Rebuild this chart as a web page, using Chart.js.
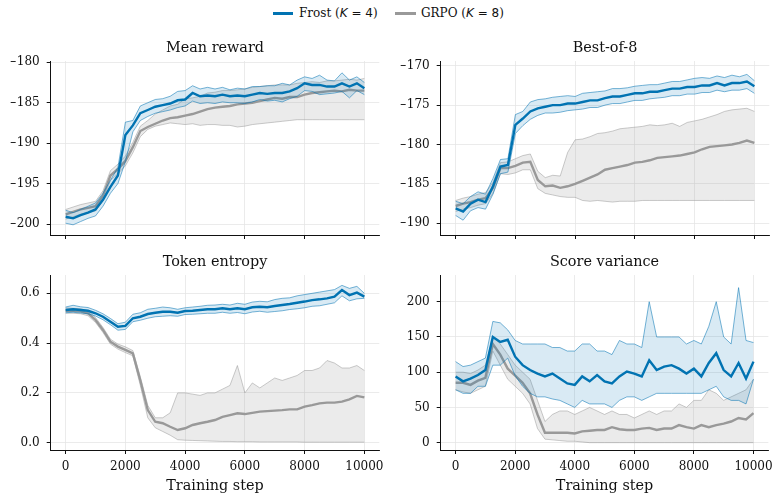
<!DOCTYPE html>
<html><head><meta charset="utf-8">
<script src="https://cdn.jsdelivr.net/npm/chart.js@4.4.1/dist/chart.umd.min.js"></script>
<style>
html,body{margin:0;padding:0;background:#fff;}
#wrap{position:relative;width:779px;height:501px;overflow:hidden;background:#fff;}
canvas{position:absolute;left:0;top:0;}
.lg{position:absolute;font-family:'DejaVu Serif',serif;font-size:12px;line-height:14px;color:#111;white-space:nowrap;}
.lg .m{font-family:'DejaVu Sans',sans-serif;}
.sw{position:absolute;height:2.5px;}
</style></head>
<body>
<div id="wrap">
  <div class="sw" style="left:273px;top:12px;width:20px;background:#0173B2"></div>
  <div class="lg" style="left:299px;top:6px">Frost (<span class="m"><i>K</i> = 4</span>)</div>
  <div class="sw" style="left:395px;top:12px;width:21px;background:#999999"></div>
  <div class="lg" style="left:421px;top:6px">GRPO (<span class="m"><i>K</i> = 8</span>)</div>
  <canvas id="c1" width="779" height="501"></canvas>
  <canvas id="c2" width="779" height="501"></canvas>
  <canvas id="c3" width="779" height="501"></canvas>
  <canvas id="c4" width="779" height="501"></canvas>
</div>
<script>
const steps = [0,250,500,750,1000,1250,1500,1750,2000,2250,
 2500,2750,3000,3250,3500,3750,4000,4250,4500,4750,
 5000,5250,5500,5750,6000,6250,6500,6750,7000,7250,
 7500,7750,8000,8250,8500,8750,9000,9250,9500,9750,10000];
const xTicks = [0,2000,4000,6000,8000,10000];

// Mean reward
const frostMeanTL = [
 -199.1,-199.3,-198.9,-198.6,-198.2,-197.0,-195.4,-194.0,-189.0,-187.8,
 -186.3,-185.9,-185.5,-185.3,-185.1,-184.7,-184.6,-183.8,-184.2,-184.1,
 -184.2,-184.0,-184.2,-184.1,-184.2,-184.0,-183.8,-183.9,-183.8,-183.8,
 -183.6,-183.2,-182.6,-182.8,-182.8,-183.0,-183.0,-182.6,-183.0,-182.6,-183.2];
const frostHiTL = [
 -198.3,-198.6,-198.2,-197.8,-197.4,-196.2,-194.6,-193.0,-187.4,-187.2,
 -185.4,-185.0,-184.6,-184.5,-184.2,-183.6,-183.5,-182.9,-183.3,-183.1,
 -183.3,-183.1,-183.4,-183.2,-183.3,-183.0,-183.0,-182.9,-182.9,-182.6,
 -182.8,-182.2,-181.8,-182.0,-181.6,-182.2,-182.3,-181.3,-182.2,-181.8,-182.5];
const frostLoTL = [
 -199.9,-200.1,-199.7,-199.3,-199.0,-197.8,-196.2,-195.0,-192.3,-188.6,
 -187.2,-186.7,-186.3,-186.1,-185.9,-185.6,-185.4,-184.8,-185.1,-185.0,
 -185.1,-184.9,-185.0,-185.0,-185.1,-184.9,-184.6,-184.8,-184.7,-184.9,
 -184.5,-184.2,-183.5,-183.6,-184.0,-183.9,-183.8,-183.6,-184.4,-183.5,-184.0];
const grpoMeanTL = [
 -198.8,-198.5,-198.2,-198.0,-197.8,-196.5,-194.0,-193.2,-192.2,-190.5,
 -188.5,-188.0,-187.6,-187.2,-186.9,-186.8,-186.6,-186.4,-186.1,-185.8,
 -185.6,-185.5,-185.4,-185.2,-185.1,-185.0,-184.8,-184.6,-184.4,-184.5,
 -184.3,-184.3,-184.0,-183.8,-183.7,-183.6,-183.5,-183.6,-183.4,-183.5,-183.5];
const grpoHiTL = [
 -198.2,-197.9,-197.6,-197.4,-197.2,-195.9,-193.4,-192.6,-191.6,-189.9,
 -187.9,-187.2,-186.4,-185.9,-185.4,-185.2,-184.5,-184.4,-184.2,-183.8,
 -183.7,-183.5,-183.5,-183.4,-183.3,-183.1,-183.0,-182.9,-182.8,-182.8,
 -182.8,-182.6,-182.5,-182.4,-182.5,-182.3,-182.3,-182.2,-182.1,-182.2,-182.0];
const grpoLoTL = [
 -199.4,-199.1,-198.8,-198.6,-198.4,-197.1,-194.6,-193.8,-192.8,-191.2,
 -189.2,-188.3,-187.9,-187.7,-187.5,-187.6,-187.7,-187.6,-187.8,-187.7,
 -187.7,-187.8,-187.8,-188.0,-187.9,-187.7,-187.6,-187.5,-187.4,-187.3,
 -187.2,-187.1,-187.1,-187.1,-187.1,-187.1,-187.1,-187.1,-187.1,-187.1,-187.1];
const yTicksTL = [-200,-195,-190,-185,-180];

// Best-of-8
const frostMeanTR = [
 -188.1,-188.5,-187.5,-187.0,-187.3,-185.3,-182.8,-182.6,-177.5,-176.7,
 -175.8,-175.4,-175.2,-175.0,-175.0,-174.8,-174.8,-174.6,-174.4,-174.4,
 -174.1,-173.9,-173.9,-173.7,-173.5,-173.5,-173.3,-173.3,-173.1,-172.9,
 -172.9,-172.7,-172.7,-172.5,-172.5,-172.2,-172.5,-172.2,-172.2,-172.0,-172.6];
const frostHiTR = [
 -187.2,-187.5,-186.6,-186.0,-186.3,-184.3,-181.9,-181.8,-176.2,-175.8,
 -174.6,-174.3,-174.2,-174.0,-173.9,-173.8,-173.9,-173.5,-173.4,-173.3,
 -173.2,-172.9,-172.9,-172.8,-172.6,-172.5,-172.4,-172.4,-172.2,-172.0,
 -172.0,-171.8,-171.6,-171.5,-171.6,-171.3,-171.5,-171.2,-171.4,-171.1,-171.9];
const frostLoTR = [
 -189.0,-189.6,-188.4,-188.0,-188.2,-186.3,-183.7,-183.5,-178.6,-177.6,
 -176.8,-176.3,-176.0,-176.0,-175.9,-175.7,-175.6,-175.5,-175.3,-175.3,
 -175.0,-174.8,-174.8,-174.6,-174.4,-174.4,-174.2,-174.1,-174.0,-173.8,
 -173.8,-173.6,-173.6,-173.4,-173.4,-173.1,-173.3,-173.1,-173.1,-172.9,-173.5];
const grpoMeanTR = [
 -187.8,-187.5,-187.3,-187.0,-186.8,-185.5,-183.0,-183.0,-182.7,-182.3,
 -182.2,-184.5,-185.3,-185.2,-185.5,-185.3,-185.0,-184.6,-184.2,-183.8,
 -183.2,-183.0,-182.8,-182.6,-182.3,-182.2,-182.0,-181.7,-181.6,-181.5,
 -181.4,-181.2,-181.0,-180.6,-180.3,-180.2,-180.1,-180.0,-179.8,-179.5,-179.8];
const grpoHiTR = [
 -187.1,-186.8,-186.6,-186.3,-186.1,-184.8,-182.3,-182.2,-181.8,-181.4,
 -181.2,-183.4,-184.2,-183.9,-184.0,-181.0,-179.4,-179.3,-179.0,-178.6,
 -178.5,-178.3,-178.0,-177.9,-177.8,-177.7,-177.5,-177.6,-177.5,-177.3,
 -177.7,-177.2,-177.0,-176.8,-176.5,-176.2,-175.8,-175.6,-175.5,-175.4,-175.8];
const grpoLoTR = [
 -188.5,-188.2,-188.0,-187.7,-187.5,-186.2,-183.7,-183.8,-183.6,-183.2,
 -183.2,-185.6,-186.2,-186.4,-186.6,-186.7,-186.7,-187.1,-187.2,-187.1,
 -187.2,-187.3,-187.2,-187.2,-187.2,-187.1,-187.1,-187.1,-187.1,-187.1,
 -187.1,-187.1,-187.1,-187.1,-187.1,-187.1,-187.1,-187.1,-187.1,-187.1,-187.1];
const yTicksTR = [-190,-185,-180,-175,-170];

// Token entropy
const frostMeanBL = [
 0.533,0.536,0.533,0.530,0.520,0.506,0.486,0.466,0.469,0.500,
 0.506,0.517,0.522,0.526,0.526,0.522,0.529,0.530,0.533,0.536,
 0.536,0.540,0.536,0.540,0.536,0.544,0.546,0.544,0.549,0.553,
 0.557,0.562,0.567,0.573,0.576,0.580,0.587,0.613,0.593,0.603,0.587];
const frostHiBL = [
 0.545,0.552,0.546,0.543,0.532,0.518,0.499,0.478,0.484,0.516,
 0.522,0.536,0.540,0.545,0.542,0.536,0.542,0.545,0.548,0.552,
 0.553,0.556,0.553,0.560,0.556,0.565,0.568,0.566,0.575,0.580,
 0.582,0.590,0.595,0.600,0.605,0.610,0.615,0.632,0.620,0.628,0.600];
const frostLoBL = [
 0.522,0.524,0.521,0.518,0.509,0.494,0.474,0.452,0.455,0.486,
 0.492,0.500,0.506,0.508,0.510,0.508,0.515,0.516,0.518,0.520,
 0.520,0.524,0.520,0.523,0.518,0.525,0.528,0.524,0.527,0.530,
 0.535,0.538,0.542,0.548,0.550,0.556,0.562,0.590,0.570,0.578,0.580];
const grpoMeanBL = [
 0.530,0.530,0.528,0.520,0.493,0.453,0.406,0.386,0.373,0.359,
 0.250,0.131,0.084,0.078,0.064,0.051,0.058,0.071,0.078,0.084,
 0.091,0.104,0.111,0.118,0.115,0.120,0.125,0.127,0.129,0.131,
 0.134,0.134,0.145,0.151,0.158,0.161,0.161,0.165,0.174,0.188,0.182];
const grpoHiBL = [
 0.542,0.540,0.538,0.530,0.503,0.463,0.416,0.396,0.385,0.370,
 0.265,0.150,0.100,0.100,0.120,0.200,0.200,0.195,0.190,0.200,
 0.200,0.215,0.230,0.310,0.200,0.240,0.220,0.240,0.260,0.250,
 0.260,0.270,0.290,0.290,0.300,0.330,0.320,0.300,0.300,0.310,0.290];
const grpoLoBL = [
 0.520,0.520,0.518,0.510,0.483,0.443,0.396,0.376,0.362,0.349,
 0.230,0.100,0.060,0.045,0.030,0.012,0.010,0.009,0.008,0.007,
 0.006,0.005,0.005,0.004,0.004,0.004,0.003,0.003,0.003,0.003,
 0.003,0.003,0.002,0.002,0.002,0.002,0.002,0.002,0.002,0.002,0.002];
const yTicksBL = [0.0,0.2,0.4,0.6];

// Score variance
const frostMeanBR = [
 94,87,91,96,103,150,143,146,122,110,
 103,98,94,98,91,84,82,94,87,96,
 87,84,94,101,98,94,117,103,108,110,
 105,98,105,94,113,127,103,94,113,91,115];
const frostHiBR = [
 115,108,110,115,120,172,170,160,145,140,
 140,140,140,135,135,130,130,140,140,130,
 130,125,145,140,140,135,200,150,150,150,
 150,140,145,140,165,200,150,140,220,145,142];
const frostLoBR = [
 75,70,70,80,80,110,110,120,95,80,
 70,65,65,62,60,55,50,60,55,55,
 55,50,60,65,65,60,65,70,70,70,
 70,70,70,70,75,80,65,60,60,55,90];
const grpoMeanBR = [
 85,85,82,88,92,140,125,105,95,85,
 70,40,14,14,14,14,13,16,17,18,
 18,22,19,18,18,20,21,18,20,20,
 25,22,20,25,22,25,27,30,35,33,42];
const grpoHiBR = [
 100,100,98,103,110,150,140,125,110,100,
 90,60,30,40,45,45,40,45,50,45,
 40,45,40,40,35,40,45,40,45,45,
 55,50,60,60,75,70,60,65,70,75,90];
const grpoLoBR = [
 75,72,70,75,80,130,110,90,80,70,
 55,20,5,4,3,2,2,1,0,0,
 0,0,0,0,0,0,0,0,0,0,
 0,0,0,0,0,0,0,0,0,0,0];
const yTicksBR = [0,50,100,150,200];

const BLUE = '#0173B2';
const BLUE_EDGE = 'rgba(1,115,178,0.6)';
const BLUE_FILL = 'rgba(1,115,178,0.15)';
const GRAY = '#999999';
const GRAY_EDGE = 'rgba(140,140,140,0.5)';
const GRAY_FILL = 'rgba(150,150,150,0.19)';
const TEXT = '#111111';
const FAMILY = "'DejaVu Serif', serif";

Chart.defaults.font.family = FAMILY;
Chart.defaults.font.size = 12;
Chart.defaults.color = TEXT;

const pts = arr => arr.map((v, i) => ({x: steps[i], y: v}));

const textPlugin = {
  id: 'panelText',
  afterDraw(chart, args, o) {
    const {ctx, chartArea} = chart;
    ctx.save();
    ctx.fillStyle = TEXT;
    ctx.textAlign = 'center';
    ctx.textBaseline = 'alphabetic';
    ctx.font = '14.4px ' + FAMILY;
    const cx = (chartArea.left + chartArea.right) / 2;
    ctx.fillText(o.title, cx, chartArea.top - 9);
    if (o.xlabel) ctx.fillText(o.xlabel, cx, chartArea.bottom + 39.5);
    ctx.restore();
  }
};

function fmt(v, dec) {
  const s = Math.abs(v).toFixed(dec);
  return (v < -1e-9 ? '\u2212' : '') + s;
}

function panel(id, pad, title, xlabel, yMin, yMax, yTicks, dec, d) {
  const tickFont = {family: FAMILY, size: 12};
  new Chart(document.getElementById(id), {
    type: 'line',
    data: {
      datasets: [
        {data: pts(d.fm), borderColor: BLUE, borderWidth: 2.4, pointRadius: 0, fill: false},
        {data: pts(d.fh), borderColor: BLUE_EDGE, borderWidth: 0.9, pointRadius: 0, fill: {target: 2}, backgroundColor: BLUE_FILL},
        {data: pts(d.fl), borderColor: BLUE_EDGE, borderWidth: 0.9, pointRadius: 0, fill: false},
        {data: pts(d.gm), borderColor: GRAY, borderWidth: 2.4, pointRadius: 0, fill: false},
        {data: pts(d.gh), borderColor: GRAY_EDGE, borderWidth: 0.9, pointRadius: 0, fill: {target: 5}, backgroundColor: GRAY_FILL},
        {data: pts(d.gl), borderColor: GRAY_EDGE, borderWidth: 0.9, pointRadius: 0, fill: false}
      ]
    },
    options: {
      responsive: false,
      animation: false,
      devicePixelRatio: 1,
      events: [],
      layout: {padding: pad},
      elements: {line: {tension: 0}},
      plugins: {
        legend: {display: false},
        tooltip: {enabled: false},
        panelText: {title: title, xlabel: xlabel}
      },
      scales: {
        x: {
          type: 'linear', min: -500, max: 10500,
          afterBuildTicks: s => { s.ticks = xTicks.map(v => ({value: v})); },
          afterFit: s => { s.height = 30; },
          grid: {color: '#e6e6e6', lineWidth: 0.8, drawTicks: true, tickLength: 4, tickColor: '#111', tickWidth: 1},
          border: {display: true, color: '#111', width: 1},
          ticks: {
            color: TEXT, font: tickFont, padding: 6,
            maxRotation: 0, autoSkip: false,
            callback: v => xlabel ? String(v) : ''
          }
        },
        y: {
          type: 'linear', min: yMin, max: yMax,
          afterBuildTicks: s => { s.ticks = yTicks.map(v => ({value: v})); },
          afterFit: s => { s.width = 40; },
          grid: {color: '#e6e6e6', lineWidth: 0.8, drawTicks: true, tickLength: 4, tickColor: '#111', tickWidth: 1},
          border: {display: true, color: '#111', width: 1},
          ticks: {
            color: TEXT, font: tickFont, padding: 7,
            autoSkip: false,
            callback: v => fmt(v, dec)
          }
        }
      }
    },
    plugins: [textPlugin]
  });
}

panel('c1', {left: 10.7, right: 399.7, top: 61, bottom: 236}, 'Mean reward', '',
  -201.36, -179.84, yTicksTL, 0,
  {fm: frostMeanTL, fh: frostHiTL, fl: frostLoTL, gm: grpoMeanTL, gh: grpoHiTL, gl: grpoLoTL});
panel('c2', {left: 400.7, right: 9.7, top: 61, bottom: 236}, 'Best-of-8', '',
  -191.48, -169.4, yTicksTR, 0,
  {fm: frostMeanTR, fh: frostHiTR, fl: frostLoTR, gm: grpoMeanTR, gh: grpoHiTR, gl: grpoLoTR});
panel('c3', {left: 10.7, right: 399.7, top: 275, bottom: 21}, 'Token entropy', 'Training step',
  -0.0294, 0.6737, yTicksBL, 1,
  {fm: frostMeanBL, fh: frostHiBL, fl: frostLoBL, gm: grpoMeanBL, gh: grpoHiBL, gl: grpoLoBL});
panel('c4', {left: 400.7, right: 9.7, top: 275, bottom: 21}, 'Score variance', 'Training step',
  -10.4, 237.9, yTicksBR, 0,
  {fm: frostMeanBR, fh: frostHiBR, fl: frostLoBR, gm: grpoMeanBR, gh: grpoHiBR, gl: grpoLoBR});
</script>
</body></html>
